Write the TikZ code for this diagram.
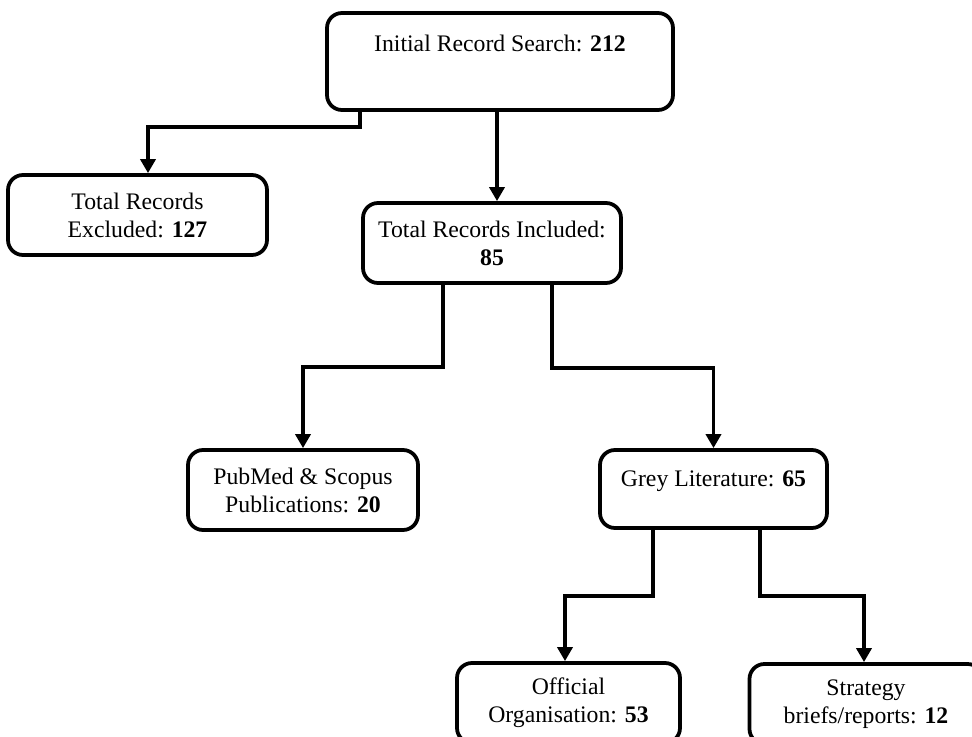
\documentclass[tikz,border=0pt]{standalone}
\usepackage{fontspec}
\setmainfont{Liberation Serif}
\usetikzlibrary{arrows.meta}
\tikzset{box/.style={draw, line width=0.75mm, rounded corners=3mm, align=center,
   inner sep=2pt, minimum height=16mm, font=\fontsize{13.5}{16}\selectfont},
 arr/.style={line width=0.75mm, -{Triangle[width=3mm,length=2.8mm]}},
 }

\begin{document}
\begin{tikzpicture}[x=0.2mm,y=-0.2mm]
        \useasboundingbox (0,0) rectangle (972,737);
        \clip (0,0) rectangle (972,737);
        % boxes
        \node[box, minimum width=69.2mm, minimum height=19.4mm] (init) at (500,61.5) {Initial Record Search: \textbf{212}\\ \strut};
        \node[box, minimum width=51.8mm] (excl) at (137.5,215) {Total Records\\ Excluded: \textbf{127}};
        \node[box, minimum width=51.6mm] (incl) at (492,243) {Total Records Included:\\ \textbf{85}};
        \node[box, minimum width=46mm] (pub) at (303,490) {PubMed \& Scopus\\ Publications: \textbf{20}};
        \node[box, minimum width=45.4mm, minimum height=15.6mm] (grey) at (713.5,489) {Grey Literature: \textbf{65}\\[-9pt] \strut};
        \node[box, minimum width=44.6mm] (off) at (568.5,703) {Official\\ Organisation: \textbf{53}};
        \node[box, minimum width=46.6mm] (strat) at (866,704) {Strategy\\ briefs/reports: \textbf{12}};
        % arrows
        \draw[arr] ([xshift=-28mm]init.south) -- ++(0,15) -| ([xshift=2.1mm]excl.north);
        \draw[arr] ([xshift=-0.6mm]init.south) -- ([xshift=-0.6mm]init.south |- incl.north);
        \draw[arr] ([xshift=-9.8mm]incl.south) -- ++(0,82) -| (pub.north);
        \draw[arr] ([xshift=12mm]incl.south) -- ++(0,83) -| (grey.north);
        \draw[arr] ([xshift=-12.1mm]grey.south) -- ++(0,66) -| ([xshift=-0.7mm]off.north);
        \draw[arr] ([xshift=9.3mm]grey.south) -- ++(0,66) -| ([xshift=-0.4mm]strat.north);
    \end{tikzpicture}
\end{document}
